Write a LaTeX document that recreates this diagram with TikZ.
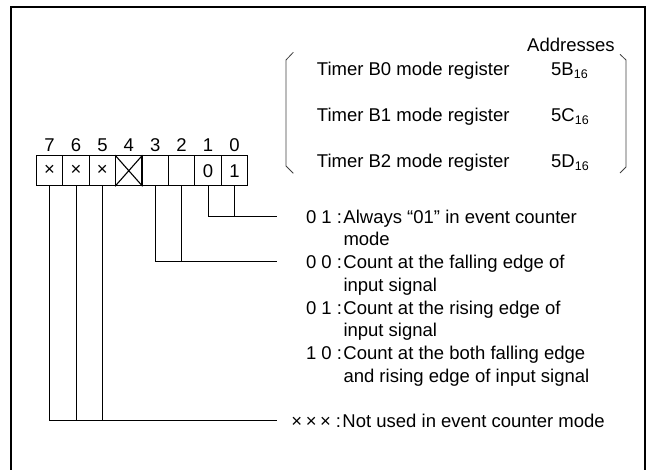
\documentclass[tikz,border=0pt]{standalone}
\usepackage{fontspec}
\setmainfont{Liberation Sans}
\newcommand\code[1]{\llap{#1\kern1.5pt}}
\newcommand\hexsub[1]{\raisebox{-2.5pt}{\fontsize{12.5}{12.5}\selectfont #1}}
\tikzset{
	frame/.style={line width=2.4pt},
	cell/.style={draw, line width=1.1pt, minimum width=26.4pt, minimum height=30pt, inner sep=0pt},
	wire/.style={line width=1pt},
	brace/.style={line width=0.8pt, black!75},
	txt/.style={inner sep=0pt, anchor=base west},
}
\begin{document}
\begin{tikzpicture}[x=1pt, y=-1pt, line join=miter, font=\fontsize{18.5}{22.7}\selectfont]
	\useasboundingbox (0,0) rectangle (648,470);
	% 1. Frame (open at the bottom)
	\draw[frame] (10.7,470) -- (10.7,7.3) -- (645,7.3) -- (645,470);
	
	% 2. Register bits 7..0 with their numbers
	\foreach \i/\t in {7/×, 6/×, 5/×, 4/{}, 3/{}, 2/{}, 1/0, 0/1} {
		\node[cell] (b\i) at ({234.4-26.4*\i},170.7) {\t};
		\node[anchor=base, inner sep=0pt] (n\i) at ([yshift=4pt]b\i.north) {\i};
	}
	\draw[line width=1.1pt] (b4.north west) -- (b4.south east) (b4.south west) -- (b4.north east);
	
	% 3. Register names and addresses
	\node[txt] (addr) at (527,52) {Addresses};
	\foreach \k/\a/\y in {0/5B/76, 1/5C/122, 2/5D/168} {
		\node[txt] (r\k) at (316.7,\y) {Timer B\k\ mode register};
		\node[txt] (a\k) at (551,\y) {\a\hexsub{16}};
	}
	\draw[brace] (293.3,52.3) -- (286,60) -- (286,166) -- (293.3,173.3);
	\draw[brace] (620,54.3) -- (626,60) -- (626,167) -- (620,173);
	
	% 4. Bit descriptions
	\node[txt] (t10) at (343.3,223.3) {\begin{tabular}[t]{@{}l@{}}
		\code{0 1 :}Always “01” in event counter\\
		mode\end{tabular}};
	\node[txt] (t32) at (343.3,268.7) {\begin{tabular}[t]{@{}l@{}}
		\code{0 0 :}Count at the falling edge of\\
		input signal\\
		\code{0 1 :}Count at the rising edge of\\
		input signal\\
		\code{1 0 :}Count at the both falling edge\\
		and rising edge of input signal\end{tabular}};
	\node[txt] (t75) at (342.3,427.3) {\code{×\kern3.5pt×\kern3.5pt×\kern5pt:}Not used in event counter mode};
	
	% 5. Connectors
	\coordinate (k10) at (276.7,216.7);
	\coordinate (k32) at (276.7,261.7);
	\coordinate (k75) at (276.7,420.7);
	\draw[wire] (b1.south) |- (k10) (b0.south) -- (b0.south |- k10);
	\draw[wire] (b3.south) |- (k32) (b2.south) -- (b2.south |- k32);
	\draw[wire] (b7.south) |- (k75) (b6.south) -- (b6.south |- k75) (b5.south) -- (b5.south |- k75);
\end{tikzpicture}
\end{document}
